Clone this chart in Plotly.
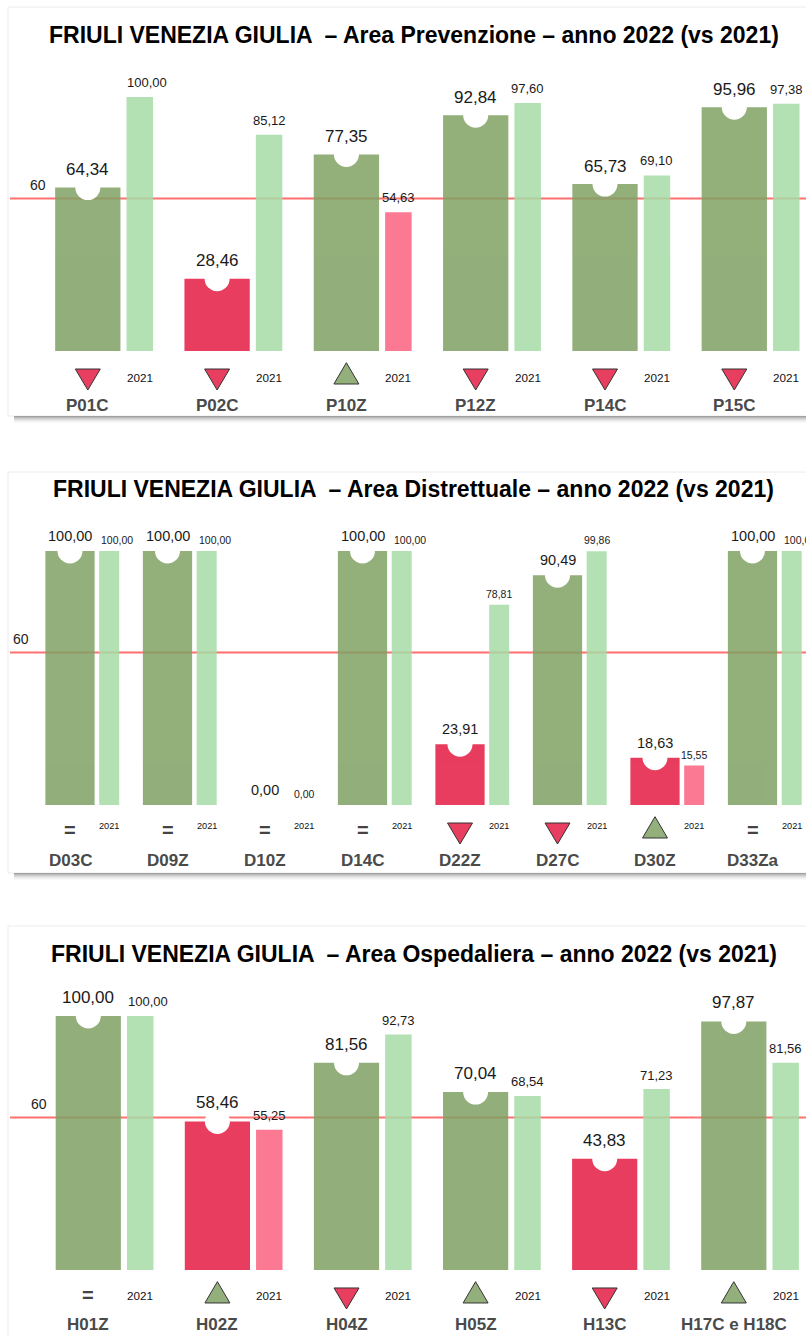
import plotly.graph_objects as go

W, H = 806, 1336

# ---------------- data ----------------
prev_cats = ["P01C", "P02C", "P10Z", "P12Z", "P14C", "P15C"]
prev_2022 = [64.34, 28.46, 77.35, 92.84, 65.73, 95.96]
prev_2021 = [100.00, 85.12, 54.63, 97.60, 69.10, 97.38]

dist_cats = ["D03C", "D09Z", "D10Z", "D14C", "D22Z", "D27C", "D30Z", "D33Za"]
dist_2022 = [100.00, 100.00, 0.00, 100.00, 23.91, 90.49, 18.63, 100.00]
dist_2021 = [100.00, 100.00, 0.00, 100.00, 78.81, 99.86, 15.55, 100.00]

osp_cats = ["H01Z", "H02Z", "H04Z", "H05Z", "H13C", "H17C e H18C"]
osp_2022 = [100.00, 58.46, 81.56, 70.04, 43.83, 97.87]
osp_2021 = [100.00, 55.25, 92.73, 68.54, 71.23, 81.56]

titles = [
    "FRIULI VENEZIA GIULIA  – Area Prevenzione – anno 2022 (vs 2021)",
    "FRIULI VENEZIA GIULIA  – Area Distrettuale – anno 2022 (vs 2021)",
    "FRIULI VENEZIA GIULIA  – Area Ospedaliera – anno 2022 (vs 2021)",
]
THRESHOLD = 60
PREV_LABEL = "2021"

# ---------------- style ----------------
FONT = "Liberation Sans, Arial, Helvetica, sans-serif"
C_GOOD22 = "rgb(128,161,100)"
C_GOOD21 = "rgb(166,220,166)"
C_BAD22 = "rgb(228,28,67)"
C_BAD21 = "rgb(251,98,128)"
BAR_OPACITY = 0.85
TRI_GREEN = "#93AF7B"
TRI_RED = "#E83E5F"
K = 2.54          # px per unit
Y_LO, Y_HI = -26, 112
W_DARK, W_LIGHT, OFF_LIGHT = 0.505, 0.205, 0.402

panels = [
    dict(cats=prev_cats, v22=prev_2022, v21=prev_2021, title=titles[0],
         zero=351, c0=87.8, s=129.3, title_y=35, top=7, bottom=416,
         dk_shift=18, dk_size=17, lt_shift=14.5, lt_size=13, lt_x100=7.5,
         yr_shift=-27, yr_size=11.7, t60_x=38),
    dict(cats=dist_cats, v22=dist_2022, v21=dist_2021, title=titles[1],
         zero=805, c0=70.0, s=97.5, title_y=489, top=472, bottom=873,
         dk_shift=15, dk_size=14.5, lt_shift=11, lt_size=10.5, lt_x100=8,
         yr_shift=-21, yr_size=9.2, t60_x=21),
    dict(cats=osp_cats, v22=osp_2022, v21=osp_2021, title=titles[2],
         zero=1270, c0=88.3, s=129.1, title_y=953.5, top=926, bottom=None,
         dk_shift=18.5, dk_size=17, lt_shift=14, lt_size=13, lt_x100=7.5,
         yr_shift=-26, yr_size=11.7, t60_x=39),
]


def fmt(v):
    return f"{v:.2f}".replace(".", ",")


def py(px):
    return 1 - px / H


def ann(**kw):
    d = dict(showarrow=False, xanchor="center", yanchor="middle")
    d.update(kw)
    return d


fig = go.Figure()
shapes = []
annotations = []

for p_i, P in enumerate(panels):
    n = len(P["cats"])
    sfx = "" if p_i == 0 else str(p_i + 1)
    xa, ya = "x" + sfx, "y" + sfx
    xs = list(range(n))
    xs_l = [x + OFF_LIGHT for x in xs]

    # panel background, border, shadow
    bot = P["bottom"] if P["bottom"] is not None else H + 5
    shapes.append(dict(type="rect", xref="paper", yref="paper",
                       x0=8 / W, x1=1.02, y0=py(bot), y1=py(P["top"]),
                       fillcolor="white", line=dict(color="#ececec", width=1),
                       layer="below"))
    if P["bottom"] is not None:
        for j, a in enumerate([0.34, 0.27, 0.2, 0.14, 0.09, 0.05, 0.025]):
            shapes.append(dict(type="rect", xref="paper", yref="paper",
                               x0=14 / W, x1=1.02,
                               y0=py(P["bottom"] + j + 1), y1=py(P["bottom"] + j),
                               fillcolor=f"rgba(0,0,0,{a})", line=dict(width=0),
                               layer="below"))

    # threshold line
    shapes.append(dict(type="line", xref=xa + " domain", yref=ya,
                       x0=0, x1=1, y0=THRESHOLD, y1=THRESHOLD,
                       line=dict(color="#FF7070", width=2), layer="below"))

    c22 = [C_GOOD22 if v >= THRESHOLD else C_BAD22 for v in P["v22"]]
    c21 = [C_GOOD21 if v >= THRESHOLD else C_BAD21 for v in P["v21"]]
    fig.add_trace(go.Bar(x=xs, y=P["v22"], width=W_DARK, marker=dict(color=c22, line=dict(width=0)),
                         opacity=BAR_OPACITY, xaxis=xa, yaxis=ya, showlegend=False,
                         hoverinfo="skip"))
    fig.add_trace(go.Bar(x=xs_l, y=P["v21"], width=W_LIGHT, marker=dict(color=c21, line=dict(width=0)),
                         opacity=BAR_OPACITY, xaxis=xa, yaxis=ya, showlegend=False,
                         hoverinfo="skip"))

    for i in range(n):
        v22, v21 = P["v22"][i], P["v21"][i]
        # notch
        shapes.append(dict(type="circle", xref=xa, yref=ya, xsizemode="pixel",
                           ysizemode="pixel", xanchor=xs[i], yanchor=v22,
                           x0=-12.5, x1=12.5, y0=-12.5, y1=12.5,
                           fillcolor="white", line=dict(width=0), layer="above"))
        # trend symbol
        if abs(v22 - v21) < 1e-9:
            annotations.append(ann(x=xs[i], y=0, xref=xa, yref=ya, yshift=-25,
                                   text="<b>=</b>",
                                   font=dict(family=FONT, size=20, color="#444")))
        elif v22 > v21:
            shapes.append(dict(type="path", xref=xa, yref=ya, xsizemode="pixel",
                               ysizemode="pixel", xanchor=xs[i], yanchor=0,
                               path="M-12.5,-33 L12.5,-33 L0,-11.7 Z",
                               fillcolor=TRI_GREEN, line=dict(color="#333", width=1),
                               layer="above"))
        else:
            shapes.append(dict(type="path", xref=xa, yref=ya, xsizemode="pixel",
                               ysizemode="pixel", xanchor=xs[i], yanchor=0,
                               path="M-12.5,-18 L12.5,-18 L0,-39 Z",
                               fillcolor=TRI_RED, line=dict(color="#333", width=1),
                               layer="above"))
        # value labels
        annotations.append(ann(x=xs[i], y=v22, xref=xa, yref=ya, yshift=P["dk_shift"],
                               text=fmt(v22),
                               font=dict(family=FONT, size=P["dk_size"], color="#1a1a1a")))
        annotations.append(ann(x=xs_l[i], y=v21, xref=xa, yref=ya, yshift=P["lt_shift"],
                               xshift=P["lt_x100"] if v21 >= 99.995 else 0,
                               text=fmt(v21),
                               font=dict(family=FONT, size=P["lt_size"], color="#1a1a1a")))
        annotations.append(ann(x=xs_l[i], y=0, xref=xa, yref=ya, yshift=P["yr_shift"],
                               text=PREV_LABEL,
                               font=dict(family=FONT, size=P["yr_size"], color="#111")))
        annotations.append(ann(x=xs[i], y=0, xref=xa, yref=ya, yshift=-55,
                               text="<b>" + P["cats"][i] + "</b>",
                               font=dict(family=FONT, size=17, color="#4a4a4a")))

    # threshold label
    annotations.append(ann(x=P["t60_x"] / W, xref="paper", y=THRESHOLD, yref=ya,
                           yshift=13.5, text=str(THRESHOLD),
                           font=dict(family=FONT, size=14, color="#222")))
    # title
    annotations.append(ann(x=414 / W, xref="paper", y=py(P["title_y"]), yref="paper",
                           text="<b>" + P["title"] + "</b>",
                           font=dict(family=FONT, size=23, color="black")))

    z = P["zero"]
    x_range = [(10 - P["c0"]) / P["s"], (806 - P["c0"]) / P["s"]]
    y_dom = [max(0, py(z - Y_LO * K)), py(z - Y_HI * K)]
    ax = dict(visible=False, showgrid=False, zeroline=False, fixedrange=True)
    fig.update_layout(**{
        "xaxis" + sfx: dict(ax, range=x_range, domain=[10 / W, 1], anchor=ya),
        "yaxis" + sfx: dict(ax, range=[Y_LO, Y_HI], domain=y_dom, anchor=xa),
    })

fig.update_layout(
    width=W, height=H, margin=dict(l=0, r=0, t=0, b=0),
    paper_bgcolor="white", plot_bgcolor="rgba(0,0,0,0)",
    barmode="overlay", shapes=shapes, annotations=annotations,
    font=dict(family=FONT),
)

fig.write_html("out.html", config={"displayModeBar": False},
               post_script="document.body.style.margin='0';document.body.style.overflow='hidden';")
